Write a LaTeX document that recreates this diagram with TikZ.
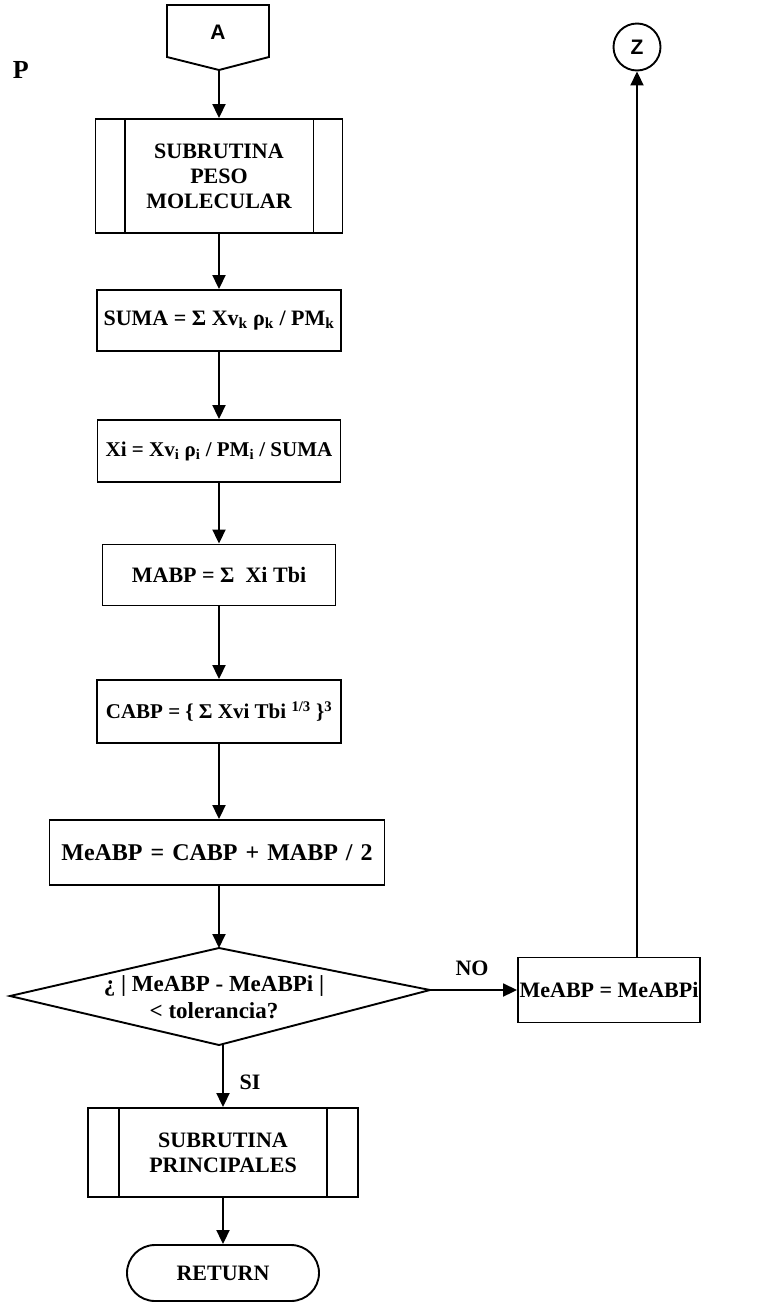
\documentclass[tikz,border=0pt]{standalone}
\usepackage{fontspec}
\setmainfont{Liberation Serif}
\newfontfamily\sansb{Liberation Sans}
\usetikzlibrary{arrows.meta,shapes.misc}
\begin{document}
\begin{tikzpicture}[x=1pt,y=-1pt,line width=1.9pt,
  txt/.style={font=\fontsize{22}{25}\selectfont\bfseries, align=center, inner sep=0pt},
  box/.style={draw, rectangle, txt},
  arr/.style={-{Triangle[length=14pt,width=13pt]}},
  conn/.style={font=\sansb\bfseries\fontsize{21}{21}\selectfont}]
\useasboundingbox (0,0) rectangle (760,1307);

% title fragment
\node[txt, font=\fontsize{26}{26}\selectfont\bfseries, anchor=west] (p) at (12,70) {P};

% off-page connector A
\coordinate (a1) at (167,5);
\coordinate (a2) at (269,5);
\coordinate (a3) at (269,57);
\coordinate (atip) at (219,70);
\coordinate (a5) at (167,57);
\draw (a1) -- (a2) -- (a3) -- (atip) -- (a5) -- cycle;
\node[conn] (a) at (218,32) {A};

% subroutine peso molecular
\node[box, minimum width=247, minimum height=114] (s1) at (219,176) {SUBRUTINA\\PESO\\MOLECULAR};
\draw ([xshift=30pt]s1.north west) -- ([xshift=30pt]s1.south west);
\draw ([xshift=-30pt]s1.north east) -- ([xshift=-30pt]s1.south east);

\node[box, minimum width=244, minimum height=61] (suma) at (219,320.5) {SUMA = Σ Xv\textsubscript{k} ρ\textsubscript{k} / PM\textsubscript{k}};
\node[box, minimum width=243, minimum height=62, font=\fontsize{21}{24}\selectfont\bfseries] (xi) at (219,451) {Xi = Xv\textsubscript{i} ρ\textsubscript{i} / PM\textsubscript{i} / SUMA};
\node[box, minimum width=233, minimum height=61] (mabp) at (219,575) {MABP = Σ\ \ Xi Tbi};
\node[box, minimum width=244, minimum height=63, font=\fontsize{21}{24}\selectfont\bfseries] (cabp) at (219,711.5) {CABP = \{ Σ\ Xvi Tbi \textsuperscript{1/3} \}\textsuperscript{3}};
\node[box, minimum width=335, minimum height=65, font=\fontsize{24}{27}\selectfont\bfseries] (meabp) at (217,852.5) {\spaceskip=8pt MeABP = CABP + MABP / 2};

% decision
\coordinate (dT) at (219,948);
\coordinate (dR) at (430,990);
\coordinate (dB) at (219,1045);
\coordinate (dL) at (10,996);
\draw (dT) -- (dR) -- (dB) -- (dL) -- cycle;
\node[txt, font=\fontsize{23}{27}\selectfont\bfseries] (dtxt) at (214,997) {¿ | MeABP - MeABPi |\\< tolerancia?};

\node[box, minimum width=182, minimum height=65] (m2) at (609,990) {MeABP = MeABPi};
\node[conn, circle, draw, minimum size=47, inner sep=0pt] (z) at (637,47) {Z};

\node[txt] (no) at (472,968) {NO};
\node[txt] (si) at (250,1082) {SI};

\node[box, minimum width=270, minimum height=89] (s2) at (223,1152.5) {SUBRUTINA\\PRINCIPALES};
\draw ([xshift=32pt]s2.north west) -- ([xshift=32pt]s2.south west);
\draw ([xshift=-32pt]s2.north east) -- ([xshift=-32pt]s2.south east);

\node[draw, rounded rectangle, txt, minimum width=192, minimum height=56] (ret) at (223,1273) {RETURN};

% connectors
\draw[arr] (atip) -- (s1.north);
\draw[arr] (s1.south) -- (suma.north);
\draw[arr] (suma.south) -- (xi.north);
\draw[arr] (xi.south) -- (mabp.north);
\draw[arr] (mabp.south) -- (cabp.north);
\draw[arr] (cabp.south) -- (cabp.south |- meabp.north);
\draw[arr] (meabp.south -| dT) -- (dT);
\draw[arr] (dR) -- (m2.west);
\draw[arr] (dB -| s2.north) -- (s2.north);
\draw[arr] (s2.south) -- (ret.north);
\draw[arr] (m2.north -| z.south) -- (z.south);
\end{tikzpicture}
\end{document}
